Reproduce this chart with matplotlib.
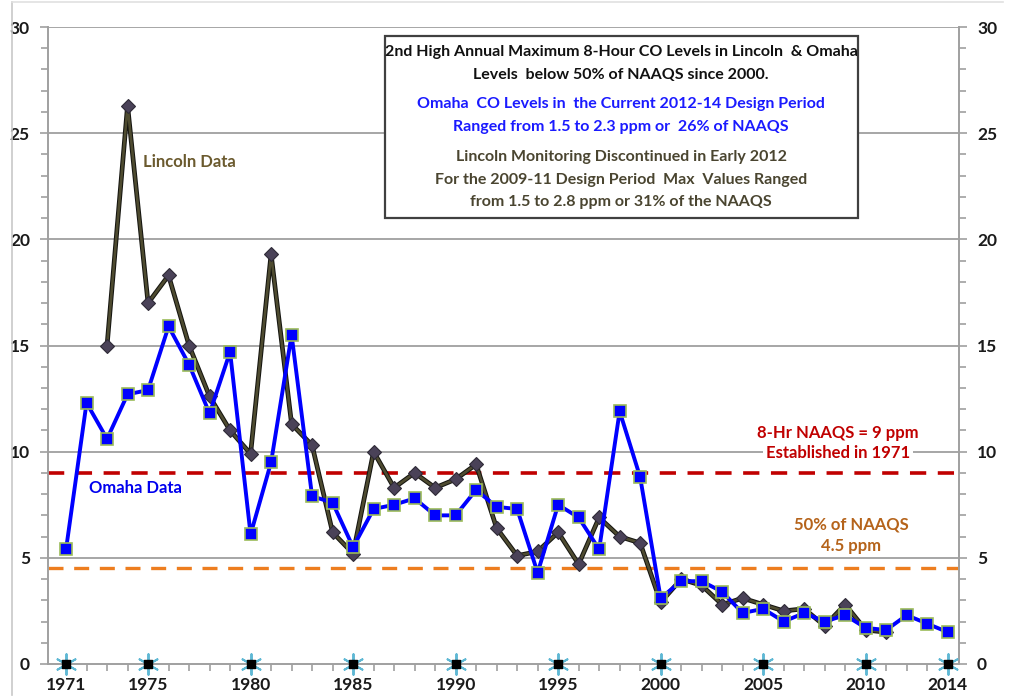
import matplotlib
matplotlib.use('Agg')
import matplotlib.pyplot as plt
from matplotlib.patches import Rectangle
from matplotlib.ticker import MultipleLocator

years = list(range(1971, 2015))
omaha = [5.4, 12.3, 10.6, 12.7, 12.9, 15.9, 14.1, 11.8, 14.7, 6.1,
         9.5, 15.5, 7.9, 7.6, 5.5, 7.3, 7.5, 7.8, 7.0, 7.0,
         8.2, 7.4, 7.3, 4.3, 7.5, 6.9, 5.4, 11.9, 8.8, 3.1,
         3.9, 3.9, 3.4, 2.4, 2.6, 2.0, 2.4, 2.0, 2.3, 1.7,
         1.6, 2.3, 1.9, 1.5]
lincoln_years = list(range(1973, 2012))
lincoln = [15.0, 26.3, 17.0, 18.3, 15.0, 12.6, 11.0, 9.9, 19.3, 11.3,
           10.3, 6.2, 5.2, 10.0, 8.3, 9.0, 8.3, 8.7, 9.4, 6.4,
           5.1, 5.3, 6.2, 4.7, 6.9, 6.0, 5.7, 2.9, 4.0, 3.7,
           2.8, 3.1, 2.8, 2.5, 2.6, 1.8, 2.8, 1.6, 1.5]
label_years = [1971, 1975, 1980, 1985, 1990, 1995, 2000, 2005, 2010, 2014]
naaqs = 9.0
half_naaqs = 4.5
yticks = [0, 5, 10, 15, 20, 25, 30]

FONT = 'Lato'
plt.rcParams['font.family'] = [FONT, 'DejaVu Sans']

fig = plt.figure(figsize=(10.10, 6.98), dpi=100)
fig.patch.set_facecolor('white')
ax = fig.add_axes([48/1010, 34/698, (959-48)/1010, (664-27)/698])

# figure frame (light)
fig.add_artist(plt.Line2D([12/1010, 12/1010], [0.005, 1-2/698], transform=fig.transFigure,
                          color='#c8c8c8', lw=1.2))
fig.add_artist(plt.Line2D([12/1010, 1003/1010], [1-2/698, 1-2/698], transform=fig.transFigure,
                          color='#e0e0e0', lw=1.2))

ax.set_xlim(1970.12, 2014.55)
ax.set_ylim(0, 30)

# grid
for v in yticks[1:]:
    ax.axhline(v, color='#a6a6a6', lw=1.4, zorder=1)

ax.axhline(naaqs, color='#c00000', lw=2.6, ls=(0, (4.5, 3.2)), zorder=2)
ax.axhline(half_naaqs, color='#ed7d1f', lw=2.4, ls=(0, (4.5, 3.2)), zorder=2)

ax.plot(lincoln_years, lincoln, color='#151510', lw=3.4, zorder=3)
ax.plot(lincoln_years, lincoln, color='#4e4b30', lw=1.9, zorder=3.1,
        marker='D', ms=7, mfc='#4a4258', mec='#2e2a36', mew=0.8)
ax.plot(years, omaha, color='#0000ff', lw=2.8, zorder=4,
        marker='s', ms=9, mfc='#0000ff', mec='#9bbb59', mew=1.2)

# axis label markers on the baseline
ax.scatter(label_years, [0]*len(label_years), marker=(6, 2, 0), s=220, color='#5fb8d4',
           lw=1.4, zorder=5, clip_on=False)
ax.scatter(label_years, [0]*len(label_years), marker='s', s=30, color='black',
           zorder=6, clip_on=False)

# spines
ax.spines['top'].set_visible(False)
for s in ['left', 'right', 'bottom']:
    ax.spines[s].set_color('#a0a0a0')
    ax.spines[s].set_linewidth(1.4)

ax.set_yticks(yticks)
ax.yaxis.set_minor_locator(MultipleLocator(1))
ax.set_xticks(label_years)
ax.set_xticklabels([str(y) for y in label_years])
ax.xaxis.set_minor_locator(MultipleLocator(1))
ax.tick_params(axis='y', which='both', left=True, right=True, labelleft=True, labelright=True,
               direction='out', color='#a0a0a0', width=1.2, labelsize=12.5, labelcolor='#1a1a1a')
ax.tick_params(axis='y', which='major', length=6, pad=7)
ax.tick_params(axis='y', which='minor', length=5)
ax.tick_params(axis='x', which='major', length=0, pad=9, labelsize=12.5, labelcolor='#1a1a1a')
ax.tick_params(axis='x', which='minor', length=5, direction='out', color='#a0a0a0', width=1.2)
for lab in ax.get_xticklabels():
    lab.set_fontweight('bold')
for t in ax.yaxis.get_major_ticks():
    t.label2.set_fontweight('bold')
    t.label1.set_fontweight('bold')

def px(x, y):
    return (x/1010, 1 - y/698)

fig.text(*px(189, 162), 'Lincoln Data', color='#6b5a2e', fontsize=12, fontweight='bold',
         ha='center', va='center', zorder=10)
fig.text(*px(135, 488), 'Omaha Data', color='#0000ee', fontsize=12, fontweight='bold',
         ha='center', va='center', zorder=10)

bb = dict(boxstyle='square,pad=0.15', fc='white', ec='none')
fig.text(*px(838, 433), '8-Hr NAAQS = 9 ppm', color='#c00000', fontsize=12, fontweight='bold',
         ha='center', va='center', zorder=10, bbox=bb)
fig.text(*px(838, 453), 'Established in 1971', color='#c00000', fontsize=12, fontweight='bold',
         ha='center', va='center', zorder=10, bbox=bb)
fig.text(*px(851, 524), '50% of NAAQS', color='#b5631a', fontsize=12, fontweight='bold',
         ha='center', va='center', zorder=10, bbox=bb)
fig.text(*px(851, 546), '4.5 ppm', color='#b5631a', fontsize=12, fontweight='bold',
         ha='center', va='center', zorder=10, bbox=bb)

# main info box
fig.add_artist(Rectangle((385/1010, 1-218/698), (858-385)/1010, (218-36)/698,
                         transform=fig.transFigure, fc='white', ec='#404040', lw=1.6, zorder=9))
lines = [
    (52, '2nd High Annual Maximum 8-Hour CO Levels in Lincoln  & Omaha', '#111111'),
    (75, 'Levels  below 50% of NAAQS since 2000.', '#111111'),
    (104, 'Omaha  CO Levels in  the Current 2012-14 Design Period', '#1a1aff'),
    (127, 'Ranged from 1.5 to 2.3 ppm or  26% of NAAQS', '#1a1aff'),
    (157, 'Lincoln Monitoring Discontinued in Early 2012', '#4a4530'),
    (180, 'For the 2009-11 Design Period  Max  Values Ranged', '#4a4530'),
    (202, 'from 1.5 to 2.8 ppm or 31% of the NAAQS', '#4a4530'),
]
for y, t, c in lines:
    fig.text(*px(621, y), t, color=c, fontsize=11.5, fontweight='bold', ha='center', va='center',
             zorder=11)

fig.savefig('out.png', dpi=100, facecolor='white')
